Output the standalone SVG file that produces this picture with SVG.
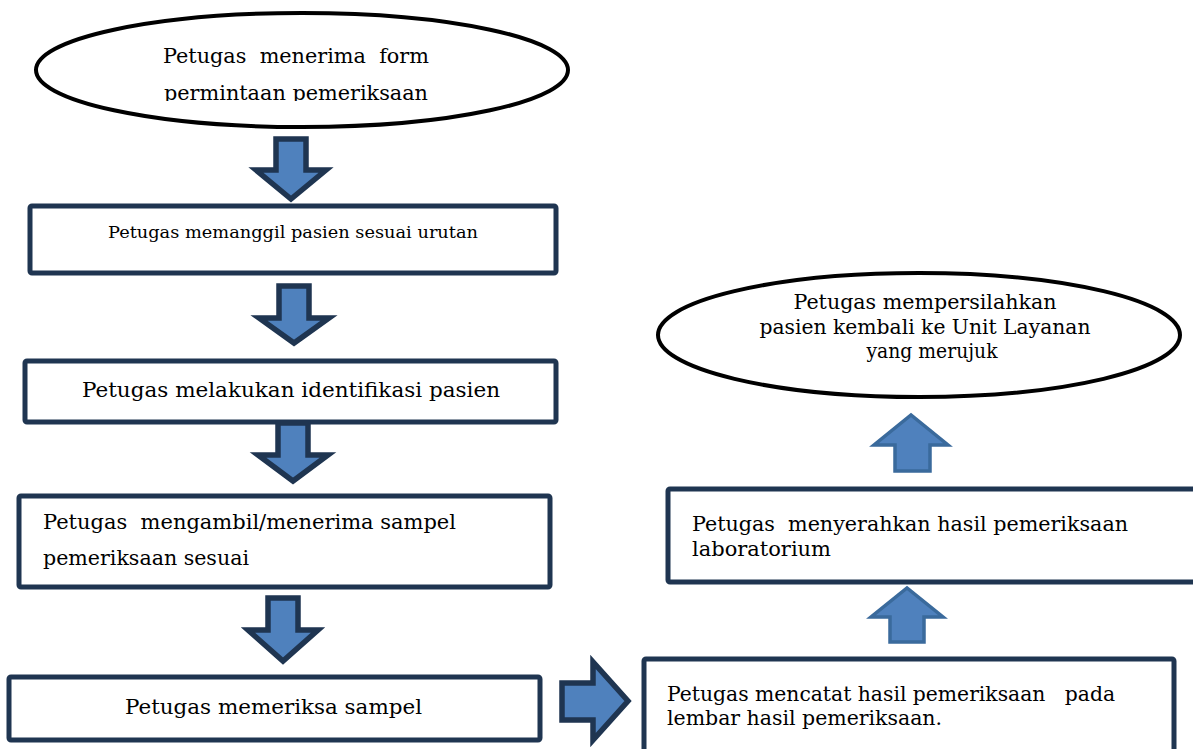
<svg xmlns="http://www.w3.org/2000/svg" width="1193" height="749" viewBox="0 0 1193 749">
<style>
.t{font-family:"DejaVu Serif","Liberation Serif",serif;font-size:20.5px;fill:#000;white-space:pre}
.s{font-size:17.4px}
.box{fill:#fff;stroke:#1f3551;stroke-width:5}
.ell{fill:#fff;stroke:#000;stroke-width:4}
.dn{fill:#4f81bd;stroke:#1f3551;stroke-width:5.5;stroke-linejoin:miter}
.up{fill:#4f81bd;stroke:#3a6a9c;stroke-width:3.5;stroke-linejoin:miter}
</style>
<defs>
<clipPath id="c1"><rect x="0" y="0" width="1193" height="101"/></clipPath>
</defs>
<rect width="1193" height="749" fill="#fff"/>
<g id="n1">
<ellipse class="ell" cx="302" cy="70" rx="266" ry="57"/>
<g clip-path="url(#c1)">
<text class="t" x="163" y="63" textLength="266" lengthAdjust="spacingAndGlyphs">Petugas  menerima  form</text>
<text class="t" x="164" y="100" textLength="264" lengthAdjust="spacingAndGlyphs">permintaan pemeriksaan</text>
</g>
</g>
<g id="n2">
<rect class="box" x="30" y="206" width="526" height="67" rx="2"/>
<text class="t s" x="108" y="238" textLength="370" lengthAdjust="spacingAndGlyphs">Petugas memanggil pasien sesuai urutan</text>
</g>
<g id="n3">
<rect class="box" x="25" y="361" width="531" height="61" rx="2"/>
<text class="t" x="82" y="397" textLength="418" lengthAdjust="spacingAndGlyphs">Petugas melakukan identifikasi pasien</text>
</g>
<g id="n4">
<rect class="box" x="19" y="496" width="531" height="91" rx="2"/>
<text class="t" x="43" y="529" textLength="413" lengthAdjust="spacingAndGlyphs">Petugas  mengambil/menerima sampel</text>
<text class="t" x="43" y="565" textLength="206" lengthAdjust="spacingAndGlyphs">pemeriksaan sesuai</text>
</g>
<g id="n5">
<rect class="box" x="9" y="677" width="531" height="63" rx="2"/>
<text class="t" x="125" y="714" textLength="297" lengthAdjust="spacingAndGlyphs">Petugas memeriksa sampel</text>
</g>
<g id="n6">
<rect class="box" x="644" y="659" width="530" height="110" rx="2"/>
<text class="t" x="667" y="701" textLength="448" lengthAdjust="spacingAndGlyphs">Petugas mencatat hasil pemeriksaan   pada</text>
<text class="t" x="667" y="725" textLength="275" lengthAdjust="spacingAndGlyphs">lembar hasil pemeriksaan.</text>
</g>
<g id="n7">
<rect class="box" x="668" y="489" width="560" height="93" rx="2"/>
<text class="t" x="692" y="531" textLength="436" lengthAdjust="spacingAndGlyphs">Petugas  menyerahkan hasil pemeriksaan</text>
<text class="t" x="692" y="556" textLength="139" lengthAdjust="spacingAndGlyphs">laboratorium</text>
</g>
<g id="n8">
<ellipse class="ell" cx="919" cy="335" rx="261" ry="62"/>
<text class="t" x="925" y="309" text-anchor="middle" textLength="263" lengthAdjust="spacingAndGlyphs">Petugas mempersilahkan</text>
<text class="t" x="925" y="334" text-anchor="middle" textLength="331" lengthAdjust="spacingAndGlyphs">pasien kembali ke Unit Layanan</text>
<text class="t" x="932" y="358" text-anchor="middle" textLength="131" lengthAdjust="spacingAndGlyphs">yang merujuk</text>
</g>
<g id="connectors">
<path class="dn" d="M276,139 H306 V170 H326 L291,199 L256,170 H276 Z"/>
<path class="dn" d="M279,286 H309 V318 H329 L294,343 L259,318 H279 Z"/>
<path class="dn" d="M278,423 H308 V455 H328 L293,481 L258,455 H278 Z"/>
<path class="dn" d="M268,598 H298 V630 H318 L283,661 L248,630 H268 Z"/>
<path class="dn" d="M562,683 H593 V662 L628,701 L593,740 V720 H562 Z"/>
<path class="up" d="M890,642 V617 H871 L907,588 L943,617 H924 V642 Z"/>
<path class="up" d="M895,471 V445 H874 L911,415 L948,445 H930 V471 Z"/>
</g>
</svg>
